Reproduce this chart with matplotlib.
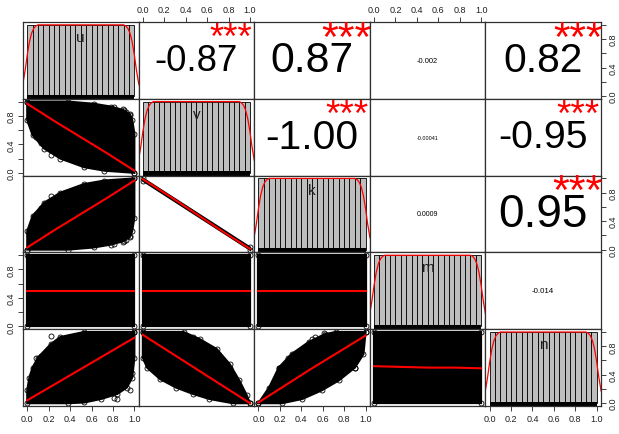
import numpy as np
import matplotlib
matplotlib.use('Agg')
import matplotlib.pyplot as plt

plt.rcParams['font.family'] = ['Liberation Sans', 'DejaVu Sans']

var_names = ['u', 'v', 'k', 'm', 'n']

# upper triangle: correlation text and significance stars
cor_rows = [0, 0, 0, 0, 1, 1, 1, 2, 2, 3]
cor_cols = [1, 2, 3, 4, 2, 3, 4, 3, 4, 4]
cor_values = [-0.87, 0.87, -0.002, 0.82, -1.00, -0.00041, -0.95, 0.0009, 0.95, -0.014]
cor_labels = ['-0.87', '0.87', '-0.002', '0.82', '-1.00', '-0.00041', '-0.95', '0.0009', '0.95', '-0.014']
cor_stars = ['***', '***', '', '***', '***', '', '***', '', '***', '']

# diagonal: histogram (density) + kernel density line
hist_breaks = [0.00, 0.05, 0.10, 0.15, 0.20, 0.25, 0.30, 0.35, 0.40, 0.45, 0.50,
               0.55, 0.60, 0.65, 0.70, 0.75, 0.80, 0.85, 0.90, 0.95, 1.00]
hist_density = [1.0, 1.0, 1.0, 1.0, 1.0, 1.0, 1.0, 1.0, 1.0, 1.0,
                1.0, 1.0, 1.0, 1.0, 1.0, 1.0, 1.0, 1.0, 1.0, 1.0]
dens_x = [-0.06, -0.04, -0.02, 0.00, 0.02, 0.04, 0.06, 0.08, 0.10, 0.50,
          0.90, 0.92, 0.94, 0.96, 0.98, 1.00, 1.02, 1.04, 1.06]
dens_y = [0.08, 0.18, 0.36, 0.58, 0.76, 0.88, 0.95, 0.985, 1.0, 1.0,
          1.0, 0.985, 0.95, 0.88, 0.76, 0.58, 0.36, 0.18, 0.08]
rug_range = [0.0, 1.0]

# lower triangle: point clouds (upper / lower envelope), stray points, smoother
vu_up_x = [0.0, 0.38, 0.62, 0.78, 0.90, 0.96, 0.98, 1.0, 1.0]
vu_up_y = [1.0, 1.0, 0.97, 0.93, 0.88, 0.82, 0.74, 0.55, 0.0]
vu_lo_x = [0.0, 0.0, 0.05, 0.16, 0.31, 0.53, 0.72, 1.0]
vu_lo_y = [1.0, 0.74, 0.53, 0.34, 0.20, 0.08, 0.03, 0.0]
vu_pts_x = [0.96, 0.89, 0.81, 0.92, 0.08, 0.22, 0.13]
vu_pts_y = [0.81, 0.90, 0.92, 0.86, 0.50, 0.25, 0.42]
vu_fit_y = [0.97, 0.73, 0.50, 0.27, 0.03]

ku_up_x = [0.0, 0.0, 0.05, 0.16, 0.31, 0.53, 0.72, 1.0]
ku_up_y = [0.0, 0.26, 0.47, 0.66, 0.80, 0.92, 0.97, 1.0]
ku_lo_x = [0.0, 0.38, 0.62, 0.78, 0.90, 0.96, 0.98, 1.0, 1.0]
ku_lo_y = [0.0, 0.0, 0.03, 0.07, 0.12, 0.18, 0.26, 0.45, 1.0]
ku_pts_x = [0.96, 0.89, 0.81, 0.92, 0.08, 0.22, 0.13]
ku_pts_y = [0.19, 0.10, 0.08, 0.14, 0.50, 0.75, 0.58]
ku_fit_y = [0.03, 0.27, 0.50, 0.73, 0.97]

kv_up_x = [0.0, 1.0]
kv_up_y = [1.0, 0.03]
kv_lo_x = [0.0, 1.0]
kv_lo_y = [0.97, 0.0]
kv_fit_y = [0.99, 0.75, 0.50, 0.25, 0.01]

sq_up_x = [0.0, 1.0]
sq_up_y = [1.0, 1.0]
sq_lo_x = [0.0, 1.0]
sq_lo_y = [0.0, 0.0]
mu_fit_y = [0.50, 0.50, 0.50, 0.50, 0.50]
mv_fit_y = [0.50, 0.50, 0.50, 0.50, 0.50]
mk_fit_y = [0.50, 0.50, 0.50, 0.50, 0.50]
nm_fit_y = [0.52, 0.51, 0.50, 0.50, 0.49]

nu_up_x = [0.0, 0.02, 0.05, 0.10, 0.22, 0.31, 0.53, 1.0]
nu_up_y = [0.18, 0.36, 0.50, 0.64, 0.83, 0.93, 1.0, 1.0]
nu_lo_x = [0.0, 0.38, 0.53, 0.69, 0.84, 0.93, 0.98, 1.0, 1.0]
nu_lo_y = [0.0, 0.0, 0.01, 0.06, 0.13, 0.22, 0.36, 0.64, 1.0]
nu_pts_x = [0.22, 0.08, 0.13, 0.84, 0.81, 0.96, 0.98]
nu_pts_y = [0.94, 0.63, 0.67, 0.06, 0.07, 0.18, 0.43]
nu_fit_y = [0.04, 0.26, 0.48, 0.70, 0.92]

nv_up_x = [0.0, 0.38, 0.53, 0.69, 0.81, 0.90, 0.97, 1.0]
nv_up_y = [1.0, 1.0, 0.90, 0.76, 0.55, 0.32, 0.11, 0.0]
nv_lo_x = [0.0, 0.0, 0.04, 0.16, 0.31, 0.47, 0.62, 0.84, 1.0]
nv_lo_y = [1.0, 0.64, 0.50, 0.34, 0.22, 0.13, 0.06, 0.0, 0.0]
nv_pts_x = [0.47, 0.49, 0.66, 0.81, 0.04, 0.10, 0.29, 0.66]
nv_pts_y = [0.93, 0.90, 0.74, 0.50, 0.64, 0.50, 0.36, 0.13]
nv_fit_y = [0.96, 0.72, 0.48, 0.24, 0.0]

nk_up_x = [0.0, 0.10, 0.19, 0.31, 0.47, 0.62, 0.72, 1.0]
nk_up_y = [0.0, 0.22, 0.50, 0.69, 0.86, 0.97, 1.0, 1.0]
nk_lo_x = [0.0, 0.22, 0.41, 0.59, 0.75, 0.90, 0.98, 1.0]
nk_lo_y = [0.0, 0.0, 0.06, 0.18, 0.32, 0.50, 0.69, 1.0]
nk_pts_x = [0.50, 0.53, 0.61, 0.28, 0.19, 0.72, 0.90, 0.58]
nk_pts_y = [0.90, 0.93, 0.98, 0.64, 0.50, 0.36, 0.50, 0.27]
nk_fit_y = [0.01, 0.25, 0.49, 0.72, 0.95]

fit_x = [0.0, 0.25, 0.5, 0.75, 1.0]

tick_vals = [0.0, 0.2, 0.4, 0.6, 0.8, 1.0]
x_tick_labels = ['0.0', '0.2', '0.4', '0.6', '0.8', '1.0']
y_tick_labels = ['0.0', '', '0.4', '', '0.8', '']

lower_panels = {
    (1, 0): (vu_up_x, vu_up_y, vu_lo_x, vu_lo_y, vu_pts_x, vu_pts_y, vu_fit_y),
    (2, 0): (ku_up_x, ku_up_y, ku_lo_x, ku_lo_y, ku_pts_x, ku_pts_y, ku_fit_y),
    (2, 1): (kv_up_x, kv_up_y, kv_lo_x, kv_lo_y, [], [], kv_fit_y),
    (3, 0): (sq_up_x, sq_up_y, sq_lo_x, sq_lo_y, [], [], mu_fit_y),
    (3, 1): (sq_up_x, sq_up_y, sq_lo_x, sq_lo_y, [], [], mv_fit_y),
    (3, 2): (sq_up_x, sq_up_y, sq_lo_x, sq_lo_y, [], [], mk_fit_y),
    (4, 0): (nu_up_x, nu_up_y, nu_lo_x, nu_lo_y, nu_pts_x, nu_pts_y, nu_fit_y),
    (4, 1): (nv_up_x, nv_up_y, nv_lo_x, nv_lo_y, nv_pts_x, nv_pts_y, nv_fit_y),
    (4, 2): (nk_up_x, nk_up_y, nk_lo_x, nk_lo_y, nk_pts_x, nk_pts_y, nk_fit_y),
    (4, 3): (sq_up_x, sq_up_y, sq_lo_x, sq_lo_y, [], [], nm_fit_y),
}

W, H = 619, 435
fig = plt.figure(figsize=(W / 100, H / 100), dpi=100)
x0, x1, y0, y1 = 23, 601, 23, 407
pw = (x1 - x0) / 5
ph = (y1 - y0) / 5
nv = len(var_names)

axes = [[None] * nv for _ in range(nv)]
for i in range(nv):
    for j in range(nv):
        ax = fig.add_axes([(x0 + j * pw) / W, 1 - (y0 + (i + 1) * ph) / H, pw / W, ph / H])
        ax.set_xlim(-0.04, 1.04)
        ax.set_ylim(-0.04, 1.04)
        ax.set_xticks([])
        ax.set_yticks([])
        for s in ax.spines.values():
            s.set_linewidth(0.9)
            s.set_color('#303030')
        axes[i][j] = ax

renderer = fig.canvas.get_renderer()

# diagonal
for i in range(nv):
    ax = axes[i][i]
    ax.bar(hist_breaks[:-1], hist_density, width=0.05, align='edge',
           color='#BEBEBE', edgecolor='black', linewidth=0.6)
    ax.plot(dens_x, dens_y, color='red', lw=0.9)
    ax.fill_between(rug_range, [-0.04, -0.04], [0.02, 0.02], color='black', lw=0)
    ax.text(0.5, 0.833, var_names[i], ha='center', va='center', fontsize=11, color='#202020')

# lower triangle
for (i, j), (ux, uy, lx, ly, px, py, fy) in lower_panels.items():
    ax = axes[i][j]
    poly_x = list(ux) + list(lx)[::-1]
    poly_y = list(uy) + list(ly)[::-1]
    ax.fill(poly_x, poly_y, facecolor='black', edgecolor='black', lw=1.6)
    ax.plot(poly_x, poly_y, 'o', mfc='none', mec='black', ms=3.6, mew=0.6)
    if px:
        ax.plot(px, py, 'o', mfc='none', mec='black', ms=3.6, mew=0.6)
    ax.plot(fit_x, fy, color='red', lw=1.5)

# upper triangle
target_base = 0.8 * pw
for r, c, val, lab, st in zip(cor_rows, cor_cols, cor_values, cor_labels, cor_stars):
    ax = axes[r][c]
    t = ax.text(0.5, 0.5, lab, transform=ax.transAxes, ha='center', va='center', fontsize=10)
    w = t.get_window_extent(renderer).width
    fs_base = 10 * target_base / w
    t.set_fontsize(fs_base * (abs(val) + 0.3) / 1.3)
    if st:
        ax.text(0.8, 0.78, st, transform=ax.transAxes, ha='center', va='center',
                fontsize=fs_base * 0.9, color='red')

# outer axes
tick_kw = dict(direction='out', length=3.5, width=0.6, colors='#202020', labelsize=6.5, pad=2)
for j in [1, 3]:
    ax = axes[0][j]
    ax.set_xticks(tick_vals)
    ax.set_xticklabels(x_tick_labels)
    ax.xaxis.tick_top()
    ax.tick_params(axis='x', **tick_kw)
for j in [0, 2, 4]:
    ax = axes[4][j]
    ax.set_xticks(tick_vals)
    ax.set_xticklabels(x_tick_labels)
    ax.tick_params(axis='x', **tick_kw)
for i in [1, 3]:
    ax = axes[i][0]
    ax.set_yticks(tick_vals)
    ax.set_yticklabels(y_tick_labels, rotation=90, va='center')
    ax.tick_params(axis='y', **tick_kw)
for i in [0, 2, 4]:
    ax = axes[i][4]
    ax.set_yticks(tick_vals)
    ax.set_yticklabels(y_tick_labels, rotation=90, va='center')
    ax.yaxis.tick_right()
    ax.tick_params(axis='y', **tick_kw)

fig.savefig('out.png', dpi=100)
